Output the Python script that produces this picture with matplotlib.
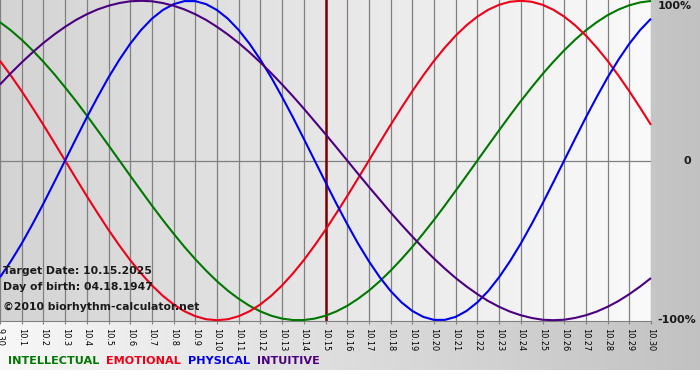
import numpy as np
import matplotlib
matplotlib.use("Agg")
import matplotlib.pyplot as plt

day_labels = ["9.30"] + [f"10.{i}" for i in range(1, 31)]
sample_days = np.arange(0, 30.5, 0.5)

intellectual = [0.866, 0.815, 0.756, 0.690, 0.618, 0.541, 0.458, 0.372, 0.282, 0.189, 0.095, 0.0,
                -0.095, -0.189, -0.282, -0.372, -0.458, -0.541, -0.618, -0.690, -0.756, -0.815,
                -0.866, -0.910, -0.945, -0.972, -0.990, -0.999, -0.999, -0.990, -0.972, -0.945,
                -0.910, -0.866, -0.815, -0.756, -0.690, -0.618, -0.541, -0.458, -0.372, -0.282,
                -0.189, -0.095,
                0.0, 0.095, 0.189, 0.282, 0.372, 0.458, 0.541, 0.618, 0.690, 0.756, 0.815,
                0.866, 0.910, 0.945, 0.972, 0.990, 0.999]
emotional = [0.624, 0.532, 0.434, 0.330, 0.223, 0.112,
             0.0, -0.112, -0.223, -0.330, -0.434, -0.532, -0.624, -0.707, -0.782, -0.847,
             -0.901, -0.944, -0.975, -0.994, -1.0,
             -0.994, -0.975, -0.944, -0.901, -0.847, -0.782, -0.707, -0.624, -0.532, -0.434,
             -0.330, -0.223, -0.112,
             0.0, 0.112, 0.223, 0.330, 0.434, 0.532, 0.624, 0.707, 0.782, 0.847, 0.901,
             0.944, 0.975, 0.994, 1.0,
             0.994, 0.975, 0.944, 0.901, 0.847, 0.782, 0.707, 0.624, 0.532, 0.434, 0.330,
             0.223]
physical = [-0.731, -0.631, -0.520, -0.398, -0.270, -0.136, 0.0,
            0.136, 0.270, 0.398, 0.520, 0.631, 0.731, 0.817, 0.888, 0.942, 0.979, 0.998,
            0.998, 0.979, 0.942, 0.888, 0.817, 0.731, 0.631, 0.520, 0.398, 0.270, 0.136, 0.0,
            -0.136, -0.270, -0.398, -0.520, -0.631, -0.731, -0.817, -0.888, -0.942, -0.979,
            -0.998, -0.998, -0.979, -0.942, -0.888, -0.817, -0.731, -0.631, -0.520, -0.398,
            -0.270, -0.136, 0.0,
            0.136, 0.270, 0.398, 0.520, 0.631, 0.731, 0.817, 0.888]
intuitive = [0.476, 0.547, 0.614, 0.677, 0.736, 0.789, 0.837, 0.880, 0.916, 0.946, 0.969,
             0.986, 0.997, 1.0,
             0.997, 0.986, 0.969, 0.946, 0.916, 0.880, 0.837, 0.789, 0.736, 0.677, 0.614,
             0.547, 0.476, 0.402, 0.325, 0.245, 0.165, 0.083, 0.0,
             -0.083, -0.165, -0.245, -0.325, -0.402, -0.476, -0.547, -0.614, -0.677, -0.736,
             -0.789, -0.837, -0.880, -0.916, -0.946, -0.969, -0.986, -0.997, -1.0,
             -0.997, -0.986, -0.969, -0.946, -0.916, -0.880, -0.837, -0.789, -0.736]
target_index = 15
y_labels = ["100%", "0", "-100%"]
y_label_values = [1.0, 0.0, -1.0]
info_lines = ["Target Date: 10.15.2025", "Day of birth: 04.18.1947",
              "©2010 biorhythm-calculator.net"]

series = [("INTELLECTUAL", intellectual, "#007800"),
          ("EMOTIONAL", emotional, "#ee0018"),
          ("PHYSICAL", physical, "#0000ee"),
          ("INTUITIVE", intuitive, "#4b0080")]

W, H = 700, 380
fig = plt.figure(figsize=(W / 100, H / 100), dpi=100)

# figure background gradient (white -> gray), white strip at bottom
bg = fig.add_axes([0, 0, 1, 1])
bg.set_axis_off()
grad = np.linspace(0.97, 0.76, 256)
img = np.tile(grad, (2, 1))
bg.imshow(np.dstack([img, img, img]), aspect="auto", extent=[0, 1, 10 / 380, 1],
          transform=bg.transAxes)
bg.set_xlim(0, 1)
bg.set_ylim(0, 1)

n = len(day_labels)
x = np.arange(n)

left, right = 0.0, 651 / W
top, bottom = 1.0, 1 - 321 / H
ax = fig.add_axes([left, bottom, right - left, top - bottom])
ax.set_xlim(0, n - 1)
ax.set_ylim(-1.005, 1.005)

# plot background gradient (gray -> near white)
pg = np.linspace(0.83, 0.98, 256)
pimg = np.tile(pg, (2, 1))
ax.imshow(np.dstack([pimg, pimg, pimg]), aspect="auto", extent=[0, 1, 0, 1],
          transform=ax.transAxes, zorder=0)

for xi in x:
    ax.axvline(xi, color="#808080", lw=0.9, zorder=1)
ax.axhline(0, color="#808080", lw=0.9, zorder=1)
ax.axvline(target_index, color="#7a0000", lw=1.8, zorder=2)

for name, vals, col in series:
    ax.plot(sample_days, vals, color=col, lw=1.5, zorder=3, clip_on=False,
            solid_capstyle="butt", solid_joinstyle="round")

for s in ax.spines.values():
    s.set_visible(False)
ax.spines["bottom"].set_visible(True)
ax.spines["bottom"].set_color("#808080")

ax.set_yticks([])
ax.set_xticks(x)
ax.set_xticklabels(day_labels, rotation=-90, fontsize=5.9, color="black",
                   family="DejaVu Sans")
ax.tick_params(axis="x", length=2.5, width=0.8, color="#808080", pad=2.5)

ytr = ax.get_yaxis_transform()
ax.text(1.0 + 7 / 651, y_label_values[0], y_labels[0], transform=ytr, fontsize=8,
        fontweight="bold", ha="left", va="top", color="#1a1a1a", clip_on=False)
ax.text(1.0 + 32 / 651, y_label_values[1], y_labels[1], transform=ytr, fontsize=8,
        fontweight="bold", ha="left", va="center", color="#1a1a1a", clip_on=False)
ax.text(1.0 + 6 / 651, y_label_values[2], y_labels[2], transform=ytr, fontsize=8,
        fontweight="bold", ha="left", va="center", color="#1a1a1a", clip_on=False)

for line, ypx in zip(info_lines, [271, 287, 307]):
    ax.text(3 / 651, 1 - ypx / 321, line, transform=ax.transAxes, fontsize=7.8,
            fontweight="bold", ha="left", va="center", color="#1a1a1a")

# legend text row
xpos = 8
r = fig.canvas.get_renderer()
for name, vals, col in series:
    t = fig.text(xpos / W, 1 - 361 / H, name, fontsize=8.1, fontweight="bold",
                 color=col, ha="left", va="center")
    bb = t.get_window_extent(renderer=r)
    xpos += bb.width + 7

fig.savefig("out.png", dpi=100)
